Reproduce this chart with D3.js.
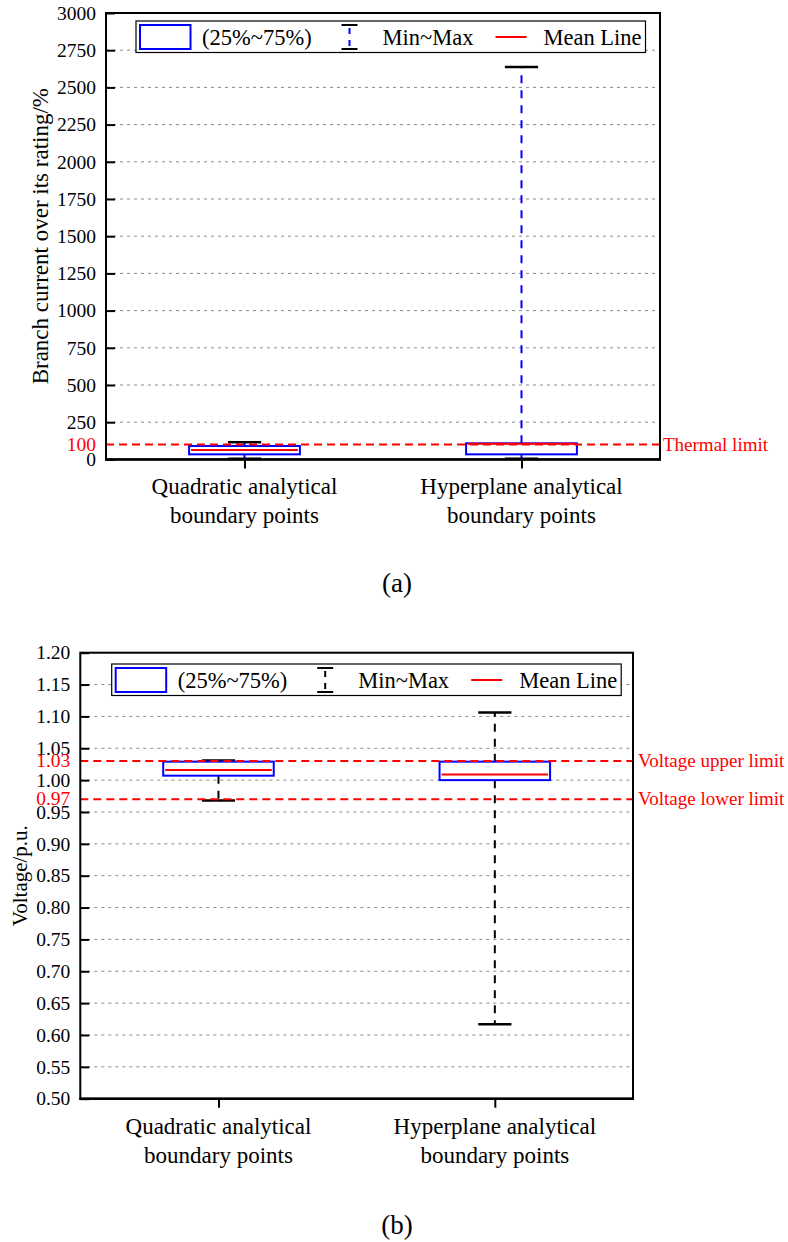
<!DOCTYPE html>
<html>
<head>
<meta charset="utf-8">
<script src="https://cdn.jsdelivr.net/npm/d3@7"></script>
<style>
  html, body { margin: 0; padding: 0; background: #fff; }
  svg { display: block; }
  text { font-family: "Liberation Serif", "Times New Roman", serif; }
</style>
</head>
<body>
<svg id="chart" width="788" height="1242"></svg>
<script>
// ---------- DATA ----------
const categoryLine1 = ["Quadratic analytical", "Hyperplane analytical"];
const categoryLine2 = ["boundary points", "boundary points"];

// Panel (a): branch current over its rating (%)
const currentMin  = [5, 5];
const currentQ1   = [34, 34];
const currentQ3   = [90, 108];
const currentMean = [63, 106];
const currentMax  = [115, 2637];
const currentTicks = [0, 250, 500, 750, 1000, 1250, 1500, 1750, 2000, 2250, 2500, 2750, 3000];
const currentLimits = [100];
const currentLimitNames = ["Thermal limit"];

// Panel (b): voltage (p.u.)
const voltageMin  = [0.968, 0.617];
const voltageQ1   = [1.007, 1.000];
const voltageQ3   = [1.029, 1.029];
const voltageMean = [1.016, 1.009];
const voltageMax  = [1.031, 1.106];
const voltageTicks = [0.50, 0.55, 0.60, 0.65, 0.70, 0.75, 0.80, 0.85, 0.90, 0.95, 1.00, 1.05, 1.10, 1.15, 1.20];
const voltageLimits = [1.03, 0.97];
const voltageLimitNames = ["Voltage upper limit", "Voltage lower limit"];

const legendLabels = ["(25%~75%)", "Min~Max", "Mean Line"];

// ---------- DRAW ----------
const svg = d3.select("#chart");
const BLUE = "#0000ff", RED = "#ff0000", GRID = "#8a8a8a";

function drawPanel(o) {
  const g = svg.append("g");
  const x = d3.scalePoint().domain(d3.range(categoryLine1.length)).range([o.left, o.right]).padding(0.5);
  const y = d3.scaleLinear().domain(o.domain).range([o.bottom, o.top]);
  const W = o.right - o.left;
  const boxW = W * 0.2, capW = boxW * 0.3;

  // gridlines
  g.append("g").selectAll("line").data(o.ticks).join("line")
    .attr("x1", o.left).attr("x2", o.right)
    .attr("y1", d => y(d)).attr("y2", d => y(d))
    .attr("stroke", GRID).attr("stroke-width", 1).attr("stroke-dasharray", "3,4");

  // left axis with inward ticks
  const yAxis = d3.axisLeft(y).tickValues(o.ticks).tickFormat(o.fmt).tickSizeInner(-9).tickSizeOuter(0).tickPadding(10);
  const ya = g.append("g").attr("transform", `translate(${o.left},0)`).call(yAxis);
  ya.select(".domain").remove();
  ya.selectAll(".tick line").attr("stroke", "#000").attr("stroke-width", 2);
  ya.selectAll(".tick text").attr("font-size", 19.5).attr("fill", "#000")
    .style("font-family", '"Liberation Serif", "Times New Roman", serif');

  // red limit tick labels
  g.append("g").selectAll("text").data(o.limits).join("text")
    .attr("x", o.left - 10).attr("y", d => y(d)).attr("dy", "0.32em")
    .attr("text-anchor", "end").attr("font-size", 19.5).attr("fill", RED)
    .text(d => o.fmt(d));

  // bottom axis ticks (outward)
  const xAxis = d3.axisBottom(x).tickSizeInner(9).tickSizeOuter(0).tickFormat("");
  const xa = g.append("g").attr("transform", `translate(0,${o.bottom})`).call(xAxis);
  xa.select(".domain").remove();
  xa.selectAll(".tick line").attr("stroke", "#000").attr("stroke-width", 2);

  // category labels
  const cl = g.append("g").selectAll("text").data(categoryLine1).join("text")
    .attr("x", (d, i) => x(i)).attr("text-anchor", "middle").attr("font-size", 23).attr("fill", "#000");
  cl.append("tspan").attr("x", (d, i) => x(i)).attr("y", o.bottom + 35).text(d => d);
  cl.append("tspan").attr("x", (d, i) => x(i)).attr("y", o.bottom + 64).text((d, i) => categoryLine2[i]);

  // boxes
  const idx = d3.range(categoryLine1.length);
  const bx = g.append("g");
  // whiskers
  bx.selectAll("line.wu").data(idx).join("line").attr("class", "wu")
    .attr("x1", i => x(i)).attr("x2", i => x(i))
    .attr("y1", i => y(o.q3[i])).attr("y2", i => y(o.max[i]))
    .attr("stroke", o.whiskerColor).attr("stroke-width", 2).attr("stroke-dasharray", "8,7");
  bx.selectAll("line.wl").data(idx).join("line").attr("class", "wl")
    .attr("x1", i => x(i)).attr("x2", i => x(i))
    .attr("y1", i => y(o.q1[i])).attr("y2", i => y(o.min[i]))
    .attr("stroke", o.whiskerColor).attr("stroke-width", 2).attr("stroke-dasharray", "8,7");
  // caps
  ["max", "min"].forEach(k => {
    bx.selectAll("line.c" + k).data(idx).join("line").attr("class", "c" + k)
      .attr("x1", i => x(i) - capW / 2).attr("x2", i => x(i) + capW / 2)
      .attr("y1", i => y(o[k][i])).attr("y2", i => y(o[k][i]))
      .attr("stroke", "#000").attr("stroke-width", 2.5);
  });
  // box
  bx.selectAll("rect").data(idx).join("rect")
    .attr("x", i => x(i) - boxW / 2).attr("width", boxW)
    .attr("y", i => y(o.q3[i])).attr("height", i => y(o.q1[i]) - y(o.q3[i]))
    .attr("fill", "#fff").attr("stroke", BLUE).attr("stroke-width", 2);
  // mean
  bx.selectAll("line.mean").data(idx).join("line").attr("class", "mean")
    .attr("x1", i => x(i) - boxW / 2 + 2).attr("x2", i => x(i) + boxW / 2 - 2)
    .attr("y1", i => y(o.mean[i])).attr("y2", i => y(o.mean[i]))
    .attr("stroke", RED).attr("stroke-width", 2);

  // limit lines
  g.append("g").selectAll("line").data(o.limits).join("line")
    .attr("x1", o.left).attr("x2", o.right)
    .attr("y1", d => y(d)).attr("y2", d => y(d))
    .attr("stroke", RED).attr("stroke-width", 2).attr("stroke-dasharray", "8,5");
  g.append("g").selectAll("text").data(o.limits).join("text")
    .attr("x", o.right + o.limitLabelGap).attr("y", d => y(d)).attr("dy", "0.32em")
    .attr("font-size", 19).attr("fill", RED).text((d, i) => o.limitNames[i]);

  // frame
  g.append("rect").attr("x", o.left).attr("y", o.top).attr("width", W).attr("height", o.bottom - o.top)
    .attr("fill", "none").attr("stroke", "#000").attr("stroke-width", 2);
  g.append("line").attr("x1", o.left - 1).attr("x2", o.right + 1).attr("y1", o.bottom).attr("y2", o.bottom)
    .attr("stroke", "#000").attr("stroke-width", 2.5);

  // legend
  const L = o.left + o.legendDx, T = o.top + o.legendDy;
  const lg = g.append("g").attr("transform", `translate(${L},${T})`);
  lg.append("rect").attr("x", 0).attr("y", 0).attr("width", 509.5).attr("height", 31.5)
    .attr("fill", "#fff").attr("stroke", "#000").attr("stroke-width", 1.2);
  lg.append("rect").attr("x", 4).attr("y", 4).attr("width", 50.5).attr("height", 24)
    .attr("fill", "#fff").attr("stroke", BLUE).attr("stroke-width", 2);
  lg.append("text").attr("x", 66).attr("y", 16).attr("dy", "0.35em").attr("font-size", 22.5).text(legendLabels[0]);
  const mx = 213.5;
  lg.append("line").attr("x1", mx).attr("x2", mx).attr("y1", 4).attr("y2", 28)
    .attr("stroke", o.whiskerColor).attr("stroke-width", 2).attr("stroke-dasharray", "6,6").attr("stroke-dashoffset", -3);
  lg.append("line").attr("x1", mx - 8).attr("x2", mx + 8).attr("y1", 4).attr("y2", 4).attr("stroke", "#000").attr("stroke-width", 2);
  lg.append("line").attr("x1", mx - 8).attr("x2", mx + 8).attr("y1", 28).attr("y2", 28).attr("stroke", "#000").attr("stroke-width", 2);
  lg.append("text").attr("x", 246.5).attr("y", 16).attr("dy", "0.35em").attr("font-size", 22.5).text(legendLabels[1]);
  lg.append("line").attr("x1", 359.5).attr("x2", 390.5).attr("y1", 16).attr("y2", 16).attr("stroke", RED).attr("stroke-width", 2);
  lg.append("text").attr("x", 407.5).attr("y", 16).attr("dy", "0.35em").attr("font-size", 22.5).text(legendLabels[2]);

  // y title
  g.append("text").attr("transform", `translate(${o.titleX},${(o.top + o.bottom) / 2}) rotate(-90)`)
    .attr("text-anchor", "middle").attr("dy", "0.35em").attr("font-size", o.titleSize).text(o.title);

  // caption
  g.append("text").attr("x", 397).attr("y", o.captionY).attr("dy", "0.35em").attr("text-anchor", "middle")
    .attr("font-size", 27).text(o.caption);
}

drawPanel({
  left: 106, right: 660, top: 13, bottom: 459.4,
  domain: [0, 3000], ticks: currentTicks, fmt: d3.format("d"),
  min: currentMin, q1: currentQ1, q3: currentQ3, mean: currentMean, max: currentMax,
  limits: currentLimits, limitNames: currentLimitNames, limitLabelGap: 3,
  whiskerColor: BLUE, legendDx: 30, legendDy: 8,
  title: "Branch current over its rating/%", titleX: 40, titleSize: 23,
  caption: "(a)", captionY: 583
});

drawPanel({
  left: 80.3, right: 633, top: 652.7, bottom: 1098.7,
  domain: [0.5, 1.2], ticks: voltageTicks, fmt: d3.format(".2f"),
  min: voltageMin, q1: voltageQ1, q3: voltageQ3, mean: voltageMean, max: voltageMax,
  limits: voltageLimits, limitNames: voltageLimitNames, limitLabelGap: 5,
  whiskerColor: "#000", legendDx: 31.4, legendDy: 11.3,
  title: "Voltage/p.u.", titleX: 20, titleSize: 21,
  caption: "(b)", captionY: 1225
});
</script>
</body>
</html>
